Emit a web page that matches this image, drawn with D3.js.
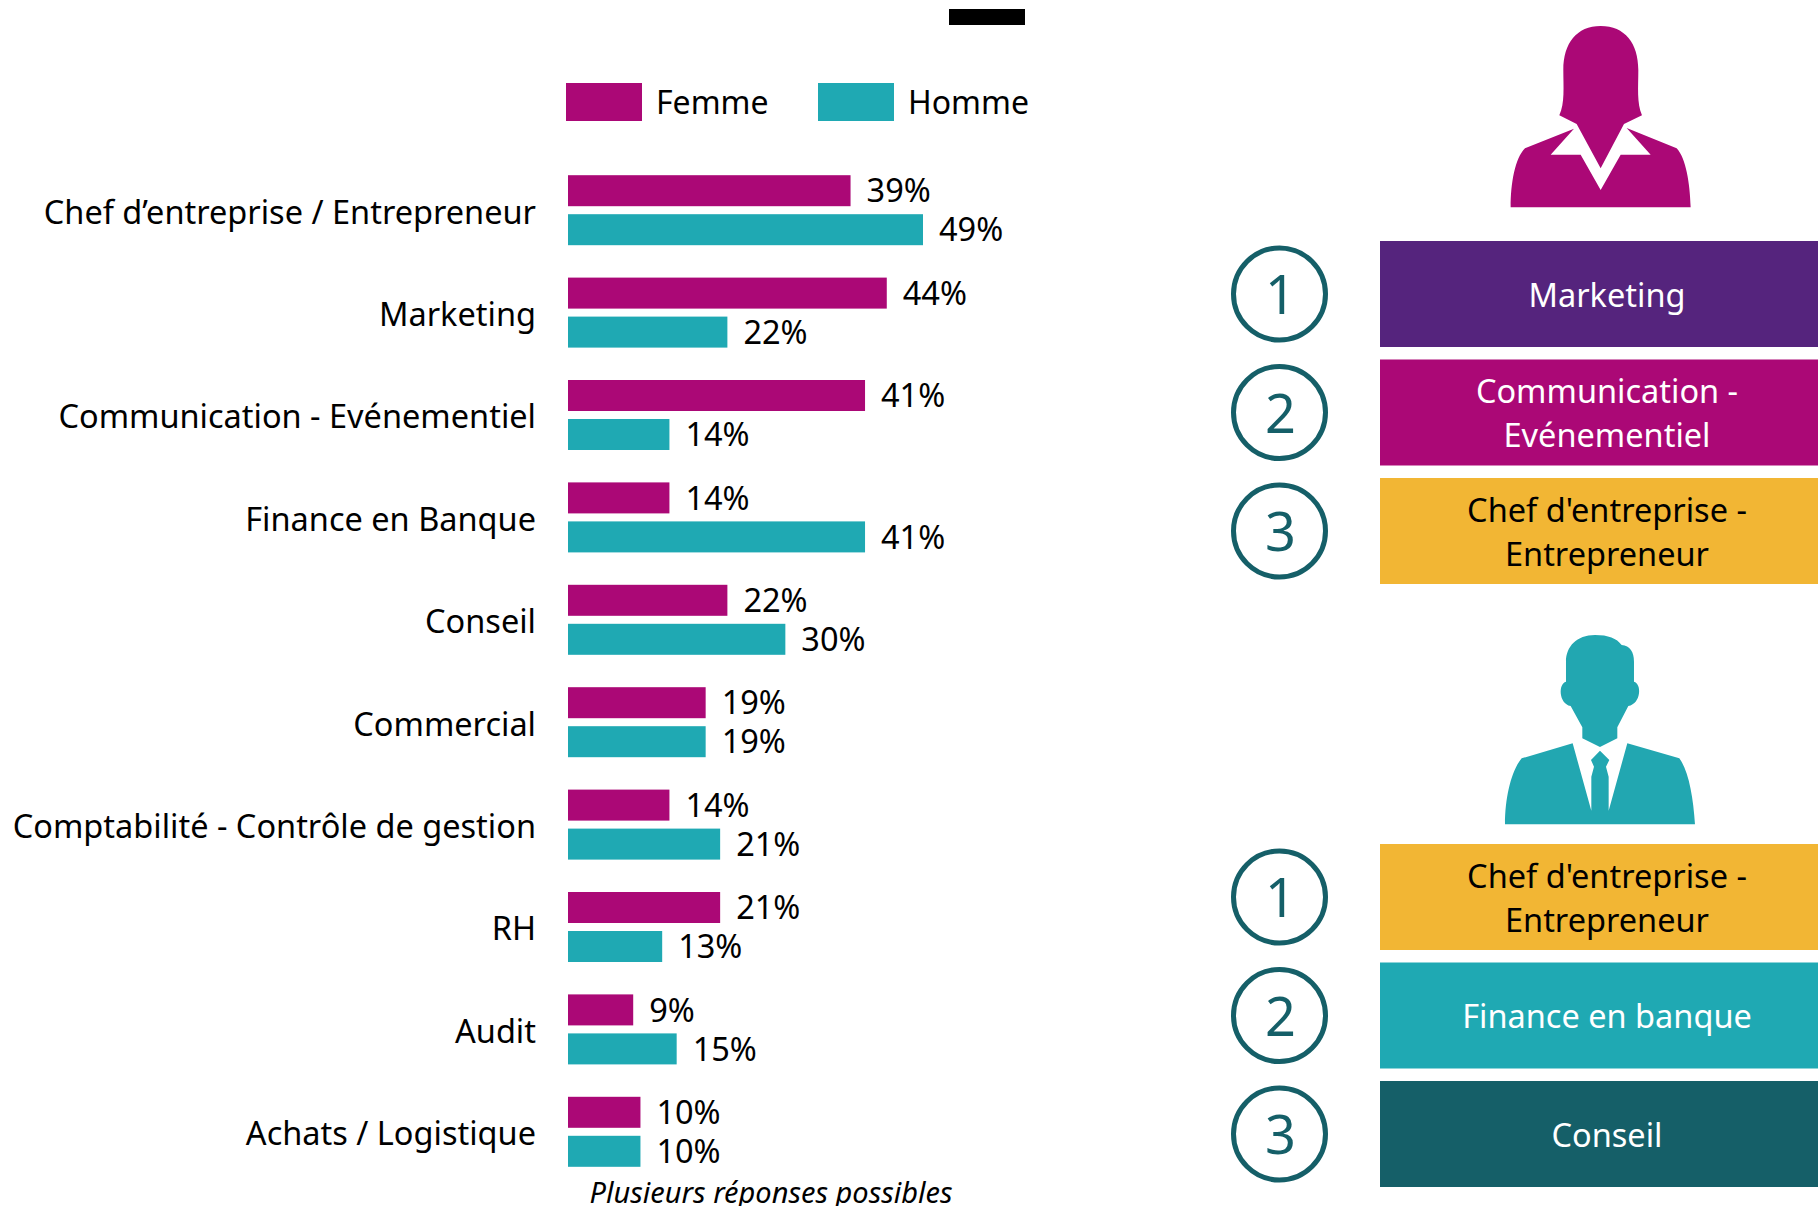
<!DOCTYPE html>
<meta charset="utf-8">
<style>
    html, body { margin: 0; padding: 0; background: #fff; }
    svg { display: block; }
    text { font-family: "Noto Sans", sans-serif; }
</style>
<div id="my_dataviz"></div>
<script src="https://d3js.org/d3.v7.min.js"></script>
<script>

    // chart data
    var categories = ["Chef d’entreprise / Entrepreneur", "Marketing", "Communication - Evénementiel",
        "Finance en Banque", "Conseil", "Commercial", "Comptabilité - Contrôle de gestion",
        "RH", "Audit", "Achats / Logistique"];
    var femme = [39, 44, 41, 14, 22, 19, 14, 21, 9, 10];
    var homme = [49, 22, 14, 41, 30, 19, 21, 13, 15, 10];
    var seriesNames = ["Femme", "Homme"];
    var note = "Plusieurs réponses possibles";

    // right hand rankings
    var topFemme = [["Marketing"], ["Communication -", "Evénementiel"], ["Chef d'entreprise -", "Entrepreneur"]];
    var topHomme = [["Chef d'entreprise -", "Entrepreneur"], ["Finance en banque"], ["Conseil"]];
    var ranks = [1, 2, 3];

    var MAGENTA = "#ab0876", TEAL = "#1fa9b3", PURPLE = "#55247d",
        GOLD = "#f2b634", DARK = "#155f68";
    var FONT_SIZE = "32.5px";

    var svg = d3.select("#my_dataviz")
        .append("svg")
        .attr("width", 1818)
        .attr("height", 1206);

    // scales
    var x = d3.scaleLinear().domain([0, 49]).range([568, 923]);
    var y = d3.scaleBand().domain(categories).range([159, 1183]);
    var sub = d3.scaleBand().domain(seriesNames).range([0, 78]);
    var barH = 31;

    // category labels, sitting a little under the middle of the row
    var axis = svg.append("g")
        .attr("transform", "translate(544,3)")
        .call(d3.axisLeft(y).tickSize(0).tickPadding(8));
    axis.select(".domain").remove();
    axis.selectAll("text")
        .attr("fill", "#000")
        .style("font-family", '"Noto Sans", sans-serif')
        .style("font-size", FONT_SIZE);

    // bars
    var seriesRows = [
        { name: "Femme", values: femme, color: MAGENTA },
        { name: "Homme", values: homme, color: TEAL }
    ];
    seriesRows.forEach(function (s) {
        var g = svg.append("g");
        var offset = sub(s.name) + (y.bandwidth() - 78) / 2 + (sub.bandwidth() - barH) / 2;
        g.selectAll("rect")
            .data(s.values)
            .enter()
            .append("rect")
            .attr("x", x(0))
            .attr("y", function (d, i) { return y(categories[i]) + offset; })
            .attr("width", function (d) { return x(d) - x(0); })
            .attr("height", barH)
            .attr("fill", s.color);
        g.selectAll("text")
            .data(s.values)
            .enter()
            .append("text")
            .attr("x", function (d) { return x(d) + 16; })
            .attr("y", function (d, i) { return y(categories[i]) + offset + barH / 2; })
            .attr("dy", "0.36em")
            .style("font-size", FONT_SIZE)
            .text(function (d) { return d + "%"; });
    });

    // legend
    var legendX = d3.scalePoint().domain(seriesNames).range([566, 818]);
    var legend = svg.selectAll(".legend")
        .data(seriesRows)
        .enter()
        .append("g")
        .attr("class", "legend")
        .attr("transform", function (d) { return "translate(" + legendX(d.name) + ",83)"; });
    legend.append("rect").attr("width", 76).attr("height", 38).attr("fill", function (d) { return d.color; });
    legend.append("text")
        .attr("x", 90)
        .attr("y", 31)
        .style("font-size", "32px")
        .text(function (d) { return d.name; });

    // the black mark at the top
    svg.append("rect").attr("x", 949).attr("y", 9).attr("width", 76).attr("height", 16).attr("fill", "#000");

    // note
    svg.append("text")
        .attr("x", 771)
        .attr("y", 1203)
        .attr("text-anchor", "middle")
        .style("font-size", "29px")
        .style("font-style", "italic")
        .text(note);

    // rankings
    function ranking(items, colors, textColors, rankY) {
        var g = svg.append("g");
        ranks.forEach(function (r, i) {
            var cy = rankY(r);
            g.append("circle")
                .attr("cx", 1279.5).attr("cy", cy).attr("r", 46)
                .attr("fill", "none").attr("stroke", DARK).attr("stroke-width", 5);
            g.append("text")
                .attr("x", 1280.5).attr("y", cy + 1).attr("dy", "0.36em")
                .attr("text-anchor", "middle")
                .attr("fill", DARK)
                .style("font-size", "54px")
                .text(r);
            g.append("rect")
                .attr("x", 1380).attr("y", cy - 53).attr("width", 438).attr("height", 106)
                .attr("fill", colors[i]);
            var lines = items[i];
            lines.forEach(function (line, j) {
                g.append("text")
                    .attr("x", 1607)
                    .attr("y", cy + 1 + (j - (lines.length - 1) / 2) * 44)
                    .attr("dy", "0.36em")
                    .attr("text-anchor", "middle")
                    .attr("fill", textColors[i])
                    .style("font-size", FONT_SIZE)
                    .text(line);
            });
        });
    }
    ranking(topFemme, [PURPLE, MAGENTA, GOLD], ["#fff", "#fff", "#000"],
        d3.scaleLinear().domain([1, 3]).range([294, 531]));
    ranking(topHomme, [GOLD, TEAL, DARK], ["#000", "#fff", "#fff"],
        d3.scaleLinear().domain([1, 3]).range([897, 1134]));

    // icons at 3x
    var woman = svg.append("g").attr("transform", "translate(1480,10) scale(0.3333)").attr("fill", MAGENTA);
    woman.append("path").attr("d", "M362,48 C290,48 250,100 250,180 C250,230 255,280 238,316 L290,342 L362,475 L432,342 L486,316 C470,280 475,230 475,180 C475,100 435,48 362,48 Z");
    woman.append("path").attr("d", "M282,356 L135,415 C105,445 92,520 92,592 L632,592 C630,520 618,445 590,415 L440,354 L512,434 L422,434 L362,540 L302,434 L212,434 Z");

    var man = svg.append("g").attr("transform", "translate(1480,620) scale(0.3333)").attr("fill", "#22a7b1");
    man.append("path").attr("d", "M345,45 C290,45 258,80 258,125 L258,185 C235,190 235,250 272,258 L307,322 L307,355 L360,381 L412,355 L412,322 L445,258 C485,250 485,190 462,185 L462,125 C462,95 450,78 425,75 C410,55 385,45 345,45 Z");
    man.append("path").attr("d", "M278,370 L125,415 C95,450 75,530 75,613 L645,613 C640,530 625,450 598,415 L442,370 L386,572 L386,470 L378,440 L388,420 L360,392 L333,420 L342,440 L334,470 L334,572 Z");

</script>
